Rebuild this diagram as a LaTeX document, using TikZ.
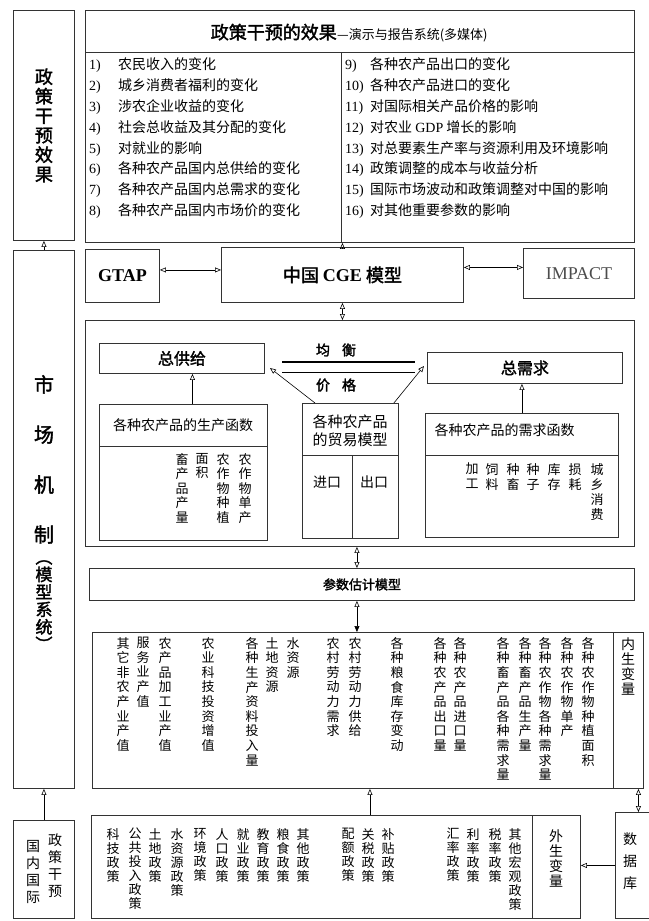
\documentclass[tikz,border=0pt]{standalone}
\usepackage{fontspec}
\setmainfont{Noto Sans CJK SC}
\newfontfamily\cjkb[FakeBold=2]{Noto Sans CJK SC}
\newfontfamily\lat{Liberation Serif}
\usetikzlibrary{arrows.meta}
% stack the characters of a word one under the other
\newcommand\colchars[1]{\expandafter\colfirst#1\colstop}
\def\colstop{}
\def\colfirst#1{#1\colrest}
\def\colrest#1{\ifx#1\colstop\else\\#1\expandafter\colrest\fi}
\tikzset{
  box/.style={draw=black!80, line width=0.9pt, inner sep=0pt, anchor=north west},
  vcol/.style={anchor=north, align=center, inner sep=0pt, font=\fontsize{13}{14.6}\selectfont},
  item/.style={anchor=west, inner sep=0pt, font=\fontsize{14}{16}\selectfont},
  arr/.style={-{Triangle[open,length=6pt,width=5pt]}, line width=0.6pt},
  darr/.style={{Triangle[open,length=6pt,width=5pt]}-{Triangle[open,length=6pt,width=5pt]}, line width=0.6pt}
}
\begin{document}
\begin{tikzpicture}[x=1pt,y=-1pt]
\useasboundingbox (0,0) rectangle (648,921);
% left column
\node[box, minimum width=61, minimum height=230] (effbox) at (13,10) {};
\node[vcol, anchor=center, font=\cjkb\fontsize{18}{19.5}\selectfont] (efftxt) at (effbox.center) {\colchars{政策干预效果}};
\node[box, minimum width=61, minimum height=538] (mktbox) at (13,250) {};
\node[vcol, font=\cjkb\fontsize{20}{50}\selectfont] (mkttxt) at (44,375) {\colchars{市场机制}};
\node[vcol, font=\cjkb\fontsize{17}{17.5}\selectfont] (mktsub) at (44,560) {\colchars{︵模型系统︶}};
\node[box, minimum width=61, minimum height=98] (polbox) at (13,820) {};
\node[vcol, font=\fontsize{14}{17}\selectfont] (poltxt) at (55,834) {\colchars{政策干预}};
\node[vcol, font=\fontsize{14}{17}\selectfont] (geotxt) at (33,840) {\colchars{国内国际}};
\draw[arr] (mktbox.north) -- (effbox.south);
\draw[arr] (polbox.north) -- (mktbox.south);
% results
\node[box, minimum width=549, minimum height=232] (resbox) at (85,10) {};
\node[anchor=base east, inner sep=0pt, font=\cjkb\fontsize{18}{20}\selectfont] (restitle) at (337,39) {政策干预的效果};
\node[anchor=base west, inner sep=0pt, font=\fontsize{13}{15}\selectfont] (ressub) at (restitle.base east) {—演示与报告系统(多媒体)};
\draw[line width=0.9pt, black!80] (85,52) -- (634,52);
\draw[line width=0.9pt, black!80] (341,52) -- (341,242);
\foreach \lbl [count=\i] in {农民收入的变化, 城乡消费者福利的变化, 涉农企业收益的变化, 社会总收益及其分配的变化, 对就业的影响, 各种农产品国内总供给的变化, 各种农产品国内总需求的变化, 各种农产品国内市场价的变化}
  \node[item] (r\i) at (89,{65+20.9*(\i-1)}) {\makebox[29pt][l]{\lat\i)}\lbl};
\foreach \lbl [count=\i from 9] in {各种农产品出口的变化, 各种农产品进口的变化, 对国际相关产品价格的影响, 对农业 {\lat GDP} 增长的影响, 对总要素生产率与资源利用及环境影响, 政策调整的成本与收益分析, 国际市场波动和政策调整对中国的影响, 对其他重要参数的影响}
  \node[item] (r\i) at (345,{65+20.9*(\i-9)}) {\makebox[25pt][l]{\lat\i)}\lbl};
% models
\node[box, minimum width=74, minimum height=53, font=\lat\bfseries\fontsize{18}{20}\selectfont] (gtap) at (85,249) {GTAP};
\node[box, minimum width=242, minimum height=55, font=\cjkb\fontsize{18}{20}\selectfont] (cge) at (221,247) {中国 {\lat\bfseries CGE} 模型};
\node[box, minimum width=111, minimum height=50, font=\lat\fontsize{18}{20}\selectfont, text=black!70] (impact) at (523,248) {IMPACT};
\draw[darr] ([yshift=6pt]gtap.east) -- ([yshift=6pt]gtap.east -| cge.west);
\draw[darr] ([yshift=6pt]impact.west -| cge.east) -- ([yshift=6pt]impact.west);
\draw[arr] (cge.north) -- (cge.north |- resbox.south);
% supply and demand
\node[box, minimum width=549, minimum height=226] (eqbox) at (85,320) {};
\draw[darr] (cge.south) -- (cge.south |- eqbox.north);
\node[box, minimum width=165, minimum height=30, font=\cjkb\fontsize{16}{18}\selectfont] (supply) at (99,343) {总供给};
\node[box, minimum width=195, minimum height=31, font=\cjkb\fontsize{16}{18}\selectfont] (demand) at (427,352) {总需求};
\draw[line width=1.2pt] (282,362) -- (415,362);
\draw[line width=0.8pt] (282,372) -- (415,372);
\node[font=\cjkb\fontsize{14}{16}\selectfont] (eqtxt) at (336,350) {均\hspace{12pt}衡};
\node[font=\cjkb\fontsize{14}{16}\selectfont] (pricetxt) at (336,385) {价\hspace{12pt}格};
\node[box, minimum width=168, minimum height=136] (prodfun) at (99,404) {};
\draw[line width=0.9pt, black!80] (99,446) -- (267,446);
\node[font=\fontsize{14}{16}\selectfont] (prodtitle) at (183,425) {各种农产品的生产函数};
\foreach \x/\lbl in {245/农作物单产, 223/农作物种植, 202/面积, 182/畜产品产量}
  \node[vcol, font=\fontsize{13}{14.5}\selectfont] (p\x) at (\x,453) {\colchars{\lbl}};
\node[box, minimum width=96, minimum height=135] (trade) at (302,403) {};
\draw[line width=0.9pt, black!80] (302,455) -- (398,455);
\draw[line width=0.9pt, black!80] (352,455) -- (352,538);
\node[align=center, font=\fontsize{15}{18}\selectfont] (tradetitle) at (350,431) {各种农产品\\的贸易模型};
\node[font=\fontsize{14}{16}\selectfont] (imp) at (327,482) {进口};
\node[font=\fontsize{14}{16}\selectfont] (exp) at (374,482) {出口};
\node[box, minimum width=193, minimum height=124] (demfun) at (425,413) {};
\draw[line width=0.9pt, black!80] (425,455) -- (618,455);
\node[anchor=west, font=\fontsize{14}{16}\selectfont] (demtitle) at (431,430) {各种农产品的需求函数};
\foreach \x/\lbl in {472/加工, 492/饲料, 513/种畜, 533/种子, 554/库存, 575/损耗, 597/城乡消费}
  \node[vcol, font=\fontsize{13}{15}\selectfont] (d\x) at (\x,463) {\colchars{\lbl}};
\coordinate (eqL) at (270,368);
\coordinate (eqR) at (424,366);
\draw[arr] ([xshift=13pt]trade.north west) -- (eqL);
\draw[arr] ([xshift=-5pt]trade.north east) -- (eqR);
\coordinate (pf) at ([xshift=9pt]prodfun.north);
\draw[arr] (pf) -- (pf |- supply.south);
\draw[arr] (demfun.north) -- (demfun.north |- demand.south);
% parameter estimation
\node[box, minimum width=545, minimum height=32, font=\cjkb\fontsize{13}{15}\selectfont] (estbox) at (89,568) {参数估计模型};
\coordinate (ea) at ([xshift=-3pt]eqbox.south);
\draw[darr] (ea) -- (ea |- estbox.north);
\node[box, minimum width=551, minimum height=156] (varbox) at (92,632) {};
\draw[line width=0.9pt, black!80] (613,632) -- (613,788);
\draw[{Triangle[open,length=6pt,width=5pt]}-{Triangle[length=6pt,width=5pt]}, line width=0.6pt] (ea |- estbox.south) -- (ea |- varbox.north);
\node[vcol, font=\fontsize{14}{15}\selectfont] (endo) at (628,638) {\colchars{内生变量}};
\foreach \x/\lbl in {588/各种农作物种植面积, 567/各种农作物单产, 545/各种农作物各种需求量, 525/各种畜产品生产量, 503/各种畜产品各种需求量, 460/各种农产品进口量, 440/各种农产品出口量, 397/各种粮食库存变动, 355/农村劳动力供给, 333/农村劳动力需求, 293/水资源, 272/土地资源, 252/各种生产资料投入量, 208/农业科技投资增值, 165/农产品加工业产值, 143/服务业产值, 123/其它非农产业产值}
  \node[vcol] (v\x) at (\x,637) {\colchars{\lbl}};
% policies and data
\node[box, minimum width=489, minimum height=103] (polmain) at (91,815) {};
\draw[line width=0.9pt, black!80] (532,815) -- (532,918);
\node[vcol, font=\fontsize{14}{15}\selectfont] (exo) at (556,830) {\colchars{外生变量}};
\foreach \x/\lbl in {113/科技政策, 135/公共投入政策, 155/土地政策, 177/水资源政策, 200/环境政策, 222/人口政策, 243/就业政策, 263/教育政策, 283/粮食政策, 303/其他政策, 348/配额政策, 368/关税政策, 388/补贴政策, 453/汇率政策, 473/利率政策, 495/税率政策, 515/其他宏观政策}
  \node[vcol, font=\fontsize{13}{14}\selectfont] (q\x) at (\x,828) {\colchars{\lbl}};
\node[box, minimum width=40, minimum height=106] (dbbox) at (615,812) {};
\node[vcol, font=\fontsize{14}{22}\selectfont] (dbtxt) at (630,833) {\colchars{数据库}};
\draw[arr] (dbbox.west) -- (dbbox.west -| polmain.east);
\coordinate (pv) at ([xshift=34pt]polmain.north);
\draw[arr] (pv) -- (pv |- varbox.south);
\coordinate (dv) at ([xshift=3pt]dbbox.north);
\draw[darr] (dv) -- (dv |- varbox.south);
\end{tikzpicture}
\end{document}
